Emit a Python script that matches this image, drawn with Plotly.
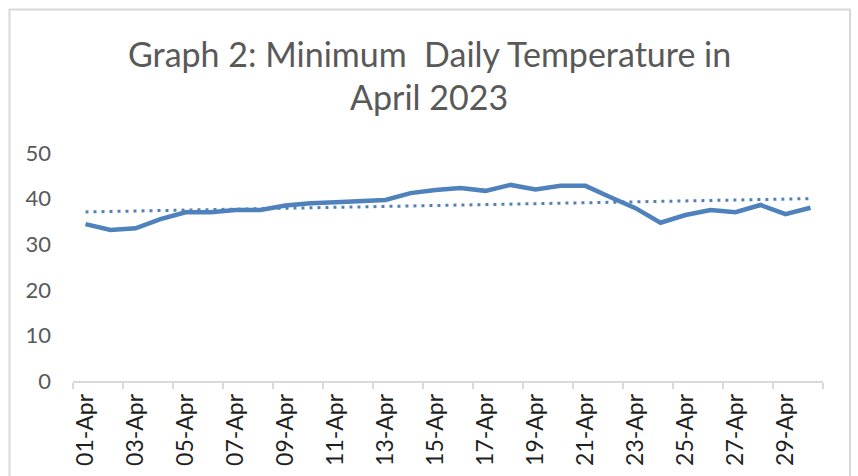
import numpy as np
import plotly.graph_objects as go

# Daily minimum temperatures, April 2023
days = [f"{d:02d}-Apr" for d in range(1, 31)]
min_temp = [34.4, 33.1, 33.5, 35.5, 37.0, 37.0, 37.5, 37.5, 38.5, 39.0,
            39.2, 39.5, 39.7, 41.2, 41.9, 42.3, 41.7, 43.0, 42.0, 42.8,
            42.8, 40.3, 37.9, 34.7, 36.4, 37.5, 37.0, 38.6, 36.6, 38.0]
y_ticks = [0, 10, 20, 30, 40, 50]

idx = np.arange(len(days))
# Linear trendline fitted to the daily values
slope, intercept = np.polyfit(idx, min_temp, 1)
trend = slope * idx + intercept

BLUE = "#4f81bd"
GREY = "#595959"
BORDER = "#d9d9d9"
FONT = "Lato"

fig = go.Figure()
fig.add_trace(go.Scatter(x=idx, y=min_temp, mode="lines",
                         line=dict(color=BLUE, width=4.5), hoverinfo="skip"))
fig.add_trace(go.Scatter(x=idx, y=trend, mode="lines",
                         line=dict(color=BLUE, width=3, dash="3px,5px"),
                         hoverinfo="skip"))

W, H = 858, 476
L, R, T, B = 73, 35, 153, 95
pw, ph = W - L - R, H - T - B

fig.update_layout(
    width=W, height=H,
    margin=dict(l=L, r=R, t=T, b=B),
    paper_bgcolor="white", plot_bgcolor="white",
    showlegend=False,
    font=dict(family=FONT, color=GREY),
    xaxis=dict(
        range=[-0.5, len(days) - 0.5],
        tickvals=list(idx[::2]), ticktext=days[::2],
        tickangle=-90, ticks="", ticklabelstandoff=2,
        tickfont=dict(size=23, color="#1f1f1f", family=FONT),
        showgrid=False, zeroline=False, automargin=False,
        showline=True, linecolor=BORDER, linewidth=1.5,
        minor=dict(tickvals=list(np.arange(-0.5, len(days), 2)),
                   ticks="outside", ticklen=6, tickcolor=BORDER,
                   tickwidth=1.5, showgrid=False),
    ),
    yaxis=dict(
        range=[0, 50], tickvals=y_ticks,
        ticks="", ticklabelstandoff=21, automargin=False,
        tickfont=dict(size=22, color=GREY, family=FONT),
        showgrid=False, zeroline=False, showline=False,
    ),
)

def px_x(x):
    return (x - L) / pw

def px_y(y):
    return (H - B - y) / ph

# Title, two centred lines
fig.add_annotation(text="Graph 2: Minimum  Daily Temperature in",
                   xref="paper", yref="paper", x=px_x(W / 2), y=px_y(53),
                   xanchor="center", yanchor="middle", showarrow=False,
                   font=dict(size=34, color=GREY, family=FONT))
fig.add_annotation(text="April 2023",
                   xref="paper", yref="paper", x=px_x(W / 2), y=px_y(96),
                   xanchor="center", yanchor="middle", showarrow=False,
                   font=dict(size=34, color=GREY, family=FONT))

# Chart frame
fig.add_shape(type="rect", xref="paper", yref="paper",
              x0=px_x(9.5), x1=px_x(850), y0=px_y(9.5), y1=px_y(490),
              line=dict(color=BORDER, width=2), fillcolor="rgba(0,0,0,0)",
              layer="below")

fig.write_html("out.html")
